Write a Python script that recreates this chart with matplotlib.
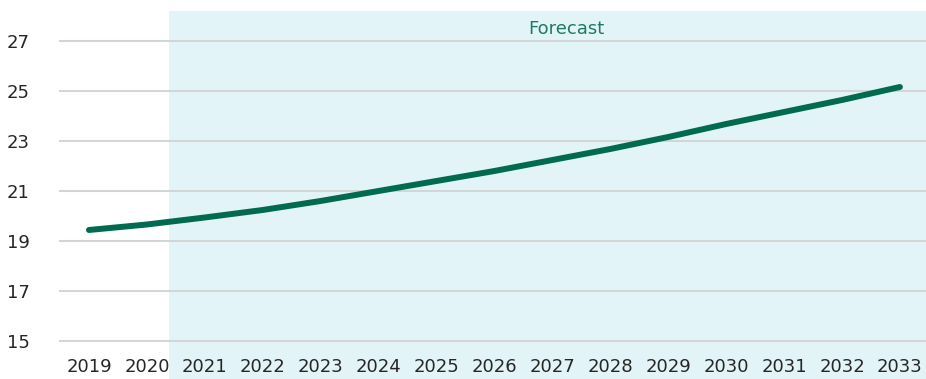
import matplotlib.pyplot as plt
from matplotlib.patches import Rectangle
from matplotlib.transforms import blended_transform_factory

years = list(range(2019, 2034))
values = [19.44, 19.66, 19.94, 20.24, 20.6, 21.0, 21.4, 21.8, 22.24,
          22.68, 23.16, 23.68, 24.16, 24.64, 25.16]
yticks = [15, 17, 19, 21, 23, 25, 27]
forecast_start = 2020.38

plt.rcParams['font.family'] = ['DejaVu Sans']

fig = plt.figure(figsize=(9.26, 3.79), dpi=100)
ax = fig.add_axes([0.0648, 0.1003, 0.9352, 0.8707])
ax.set_xlim(2018.5, 2033.45)
ax.set_ylim(15, 28.2)

# shaded forecast band, running down behind the year labels
trans = blended_transform_factory(ax.transData, fig.transFigure)
ax.add_patch(Rectangle((forecast_start, 0), 2033.45 - forecast_start, 0.971,
                       transform=trans, facecolor='#e3f4f9', edgecolor='none',
                       clip_on=False, zorder=0))
ax.text(2027.25, 27.48, 'Forecast', ha='center', va='center',
        fontsize=13, color='#1f7a62')

for y in yticks:
    ax.axhline(y, color='#d2d6d7', lw=1.5, zorder=1, clip_on=False)

ax.plot(years, values, color='#006b4f', lw=4.3, solid_capstyle='round', zorder=3)

ax.set_xticks(years)
ax.set_yticks(yticks)
ax.tick_params(length=0, labelsize=13, labelcolor='#262626')
ax.tick_params(axis='x', pad=12)
ax.tick_params(axis='y', pad=22)
for s in ax.spines.values():
    s.set_visible(False)
ax.patch.set_visible(False)

fig.savefig('out.png', dpi=100)
